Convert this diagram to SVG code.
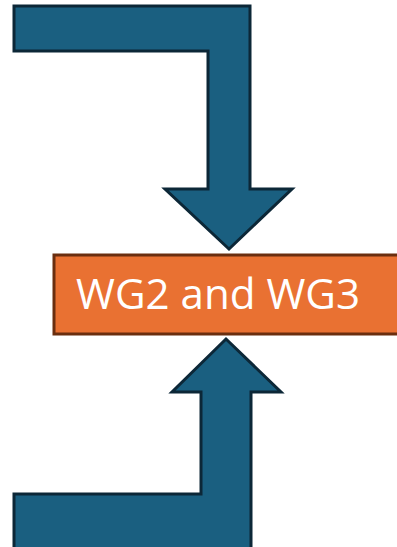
<svg xmlns="http://www.w3.org/2000/svg" width="397" height="547" viewBox="0 0 397 547">
  <style>
    .arrow { fill: #1A5F80; stroke: #0C2737; stroke-width: 3; stroke-linejoin: miter; }
    .box { fill: #E97132; stroke: #6A2E0F; stroke-width: 3; }
    .label { font-family: "Open Sans", "Noto Sans", sans-serif; font-size: 42px; fill: #FFFFFF; }
  </style>
  <rect width="397" height="547" fill="#FFFFFF"/>
  <g id="connectors">
    <!-- bent arrow coming from the top left, pointing down -->
    <path id="arrow-top" class="arrow" d="M14,6 L250,6 L250,189 L292,189 L229,249 L165,189 L208,189 L208,51 L14,51 Z"/>
    <!-- bent arrow coming from the bottom left, pointing up -->
    <path id="arrow-bottom" class="arrow" d="M14,494 L201,494 L201,392 L172,392 L226,339 L281,392 L251,392 L251,550 L14,550 Z"/>
  </g>
  <g id="node-wg">
    <rect class="box" x="54" y="255" width="346" height="79"/>
    <text class="label" x="76" y="309" textLength="284" lengthAdjust="spacingAndGlyphs">WG2 and WG3</text>
  </g>
</svg>
